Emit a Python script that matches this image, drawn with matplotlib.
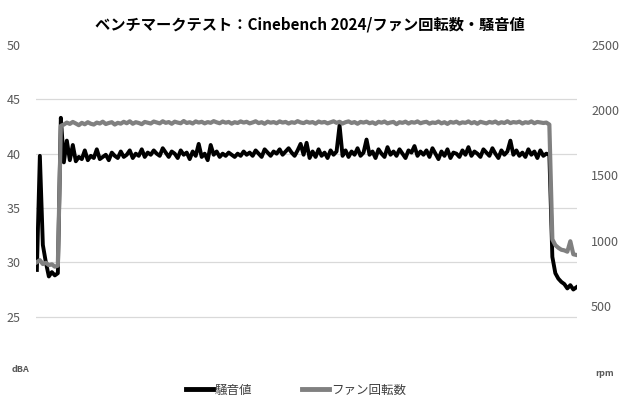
import matplotlib
matplotlib.use("Agg")
import matplotlib.pyplot as plt
from matplotlib.lines import Line2D

plt.rcParams["font.family"] = ["Noto Sans CJK JP", "DejaVu Sans"]

TITLE = "ベンチマークテスト：Cinebench 2024/ファン回転数・騒音値"
NOISE_LABEL = "騒音値"
FAN_LABEL = "ファン回転数"

# noise level (dBA), one sample per step
noise_dba = [
    29.3, 39.8, 31.6, 30.0, 28.7, 29.1, 28.8, 29.0, 43.3,
    39.2, 41.2, 39.4, 40.8, 39.3, 39.7, 39.5, 40.3, 39.4, 39.8, 39.6,
    40.4, 39.5, 39.7, 39.9, 39.4, 40.1, 39.8, 39.6, 40.2, 39.7,
    39.9, 40.3, 39.6, 40.0, 39.8, 40.4, 39.7, 40.1, 39.9, 40.3,
    40.0, 39.8, 40.5, 40.1, 39.7, 40.2, 40.0, 39.6, 40.3, 39.9,
    40.1, 39.5, 40.2, 39.8, 40.9, 39.7, 40.0, 39.4, 40.8, 39.9,
    40.2, 39.7, 40.0, 39.8, 40.1, 39.9, 39.7, 40.0, 39.8, 40.2,
    39.9, 40.1, 39.8, 40.3, 40.0, 39.7, 40.4, 40.1, 39.8, 40.2,
    40.0, 40.4, 39.9, 40.2, 40.5, 40.1, 39.8, 40.3, 40.9, 39.9,
    41.0, 39.6, 40.2, 39.7, 40.4, 39.8, 40.1, 39.6, 40.3, 39.9,
    40.2, 42.6, 39.8, 40.3, 39.7, 40.2, 39.9, 40.5, 39.8, 40.1,
    41.3, 39.9, 40.2, 39.6, 40.4, 40.0, 39.7, 40.6, 39.9, 40.2,
    39.8, 40.4, 40.0, 39.6, 40.3, 40.1, 40.7, 39.8, 40.2, 39.9,
    40.3, 39.7, 40.5, 40.0, 39.5, 40.2, 39.8, 40.4, 39.6, 40.1,
    40.0, 39.7, 40.3, 39.9, 40.6, 39.8, 40.2, 40.0, 39.7, 40.4,
    40.1, 39.8, 40.5, 40.0, 39.6, 40.3, 39.9, 40.2, 41.2, 39.9,
    40.3, 39.8, 40.1, 39.7, 40.4, 39.9, 40.2, 39.6, 40.3, 39.8,
    40.0, 39.9, 30.5, 29.0, 28.5, 28.2, 28.0, 27.6, 27.9, 27.5, 27.7,
]

# fan speed (rpm), same sampling
fan_rpm = [
    835, 850, 820, 830, 812, 818, 800, 808, 1880,
    1890, 1905, 1895, 1910, 1898, 1885, 1903, 1892, 1908, 1896, 1890,
    1905, 1898, 1912, 1894, 1902, 1908, 1890, 1903, 1897, 1911,
    1900, 1915, 1896, 1908, 1902, 1893, 1910, 1904, 1898, 1913,
    1906, 1899, 1915, 1903, 1909, 1896, 1912, 1905, 1900, 1917,
    1902, 1908, 1898, 1914, 1905, 1911, 1899, 1909, 1903, 1916,
    1907, 1900, 1913, 1904, 1910, 1897, 1908, 1902, 1914, 1905,
    1911, 1899, 1906, 1915, 1901, 1908, 1896, 1912, 1904, 1909,
    1900, 1914, 1905, 1910, 1898, 1908, 1903, 1916, 1906, 1901,
    1912, 1904, 1909, 1897, 1913, 1905, 1910, 1899, 1907, 1915,
    1903, 1911, 1898, 1908, 1914, 1902, 1909, 1896, 1910, 1905,
    1912, 1900, 1907, 1895, 1911, 1904, 1913, 1899, 1906, 1910,
    1893, 1908, 1903, 1912, 1898, 1909, 1904, 1914, 1900, 1907,
    1911, 1897, 1906, 1902, 1913, 1899, 1908, 1895, 1910, 1904,
    1912, 1898, 1907, 1903, 1914, 1900, 1909, 1896, 1911, 1905,
    1899, 1910, 1904, 1913, 1898, 1908, 1902, 1915, 1901, 1909,
    1905, 1912, 1898, 1908, 1903, 1914, 1900, 1910, 1906, 1902,
    1905, 1890, 1010, 965, 945, 930, 925, 915, 995, 895, 890,
]

dba_ticks = [25, 30, 35, 40, 45, 50]
rpm_ticks = [500, 1000, 1500, 2000, 2500]

BLACK = "#000000"
GRAY = "#808080"
LABEL_COLOR = "#595959"
GRID_COLOR = "#d9d9d9"


def style_axis(ax):
    """ Strip spines and tick marks, Excel-like. """
    for spine in ax.spines.values():
        spine.set_visible(False)
    ax.tick_params(length=0, labelsize=9, labelcolor=LABEL_COLOR)
    ax.set_xticks([])


def plot_chart():
    fig = plt.figure(figsize=(6.2, 4.0), dpi=100)
    ax = fig.add_axes([0.058, 0.0725, 0.873, 0.815])
    ax2 = ax.twinx()

    x = list(range(len(noise_dba)))
    ax.plot(x, noise_dba, color=BLACK, lw=2.8, solid_joinstyle="round")
    ax2.plot(x, fan_rpm, color=GRAY, lw=3.0, solid_joinstyle="round")

    ax.set_xlim(-0.3, len(x) - 0.7)
    ax.set_ylim(20, 50)
    ax2.set_ylim(0, 2500)
    ax.set_yticks(dba_ticks)
    ax2.set_yticks(rpm_ticks)
    ax.yaxis.grid(True, color=GRID_COLOR, lw=0.9)
    ax.get_ygridlines()[-1].set_visible(False)   # no line at the top
    ax.set_axisbelow(True)
    style_axis(ax)
    style_axis(ax2)
    ax.tick_params(axis="y", pad=11)
    ax2.tick_params(axis="y", pad=10)

    fig.text(0.5, 0.94, TITLE, ha="center", va="center",
             fontsize=11, fontweight="bold", color="#000000")
    fig.text(0.018, 0.075, "dBA", ha="left", va="center",
             fontsize=6.5, fontweight="bold", color=LABEL_COLOR)
    fig.text(0.96, 0.067, "rpm", ha="left", va="center",
             fontsize=6.5, fontweight="bold", color=LABEL_COLOR)

    handles = [Line2D([], [], color=BLACK, lw=3.5),
               Line2D([], [], color=GRAY, lw=3.5)]
    fig.legend(handles, [NOISE_LABEL, FAN_LABEL], loc="center",
               bbox_to_anchor=(0.477, 0.025), ncol=2, frameon=False,
               fontsize=9, handlelength=2.2, handletextpad=0.1,
               columnspacing=4.0, labelcolor="#404040")
    return fig


fig = plot_chart()
fig.savefig("out.png", dpi=100)
plt.close(fig)
